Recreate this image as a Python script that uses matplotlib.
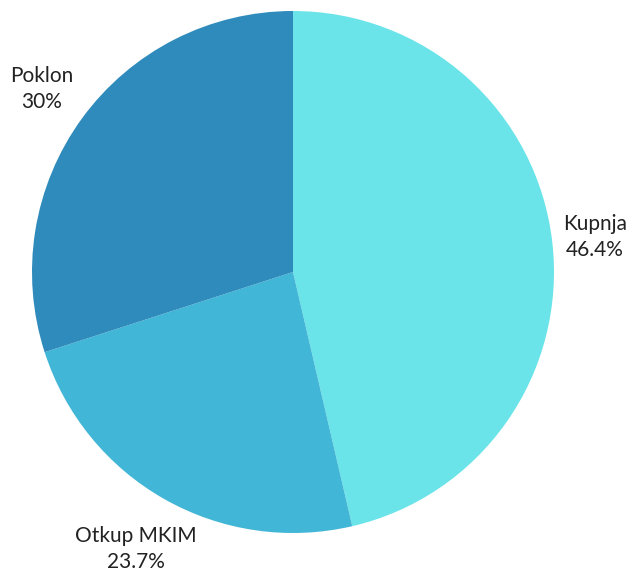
import matplotlib.pyplot as plt

names = ['Kupnja', 'Otkup MKIM', 'Poklon']
shares = [46.4, 23.7, 30]
colors = ['#6ae4e9', '#42b6d6', '#2e8bbb']

labels = ['%s\n%s%%' % (n, ('%g' % s)) for n, s in zip(names, shares)]
label_dist = [1.165, 1.22, 1.19]

plt.rcParams['font.family'] = ['Lato', 'DejaVu Sans']

fig = plt.figure(figsize=(6.28, 5.72), dpi=100)
ax = fig.add_axes([32 / 628, 39 / 572, 522 / 628, 522 / 572])
wedges, texts = ax.pie(shares, colors=colors, labels=labels, startangle=90,
                       counterclock=False, labeldistance=1.0,
                       textprops=dict(fontsize=15, color='#222222', linespacing=1.4))
for t, d in zip(texts, label_dist):
    x, y = t.get_position()
    t.set_position((x * d, y * d))
    t.set_ha('center')
    t.set_va('center')
ax.set_aspect('equal')
ax.set_xlim(-1, 1)
ax.set_ylim(-1, 1)

plt.savefig('out.png', dpi=100)
